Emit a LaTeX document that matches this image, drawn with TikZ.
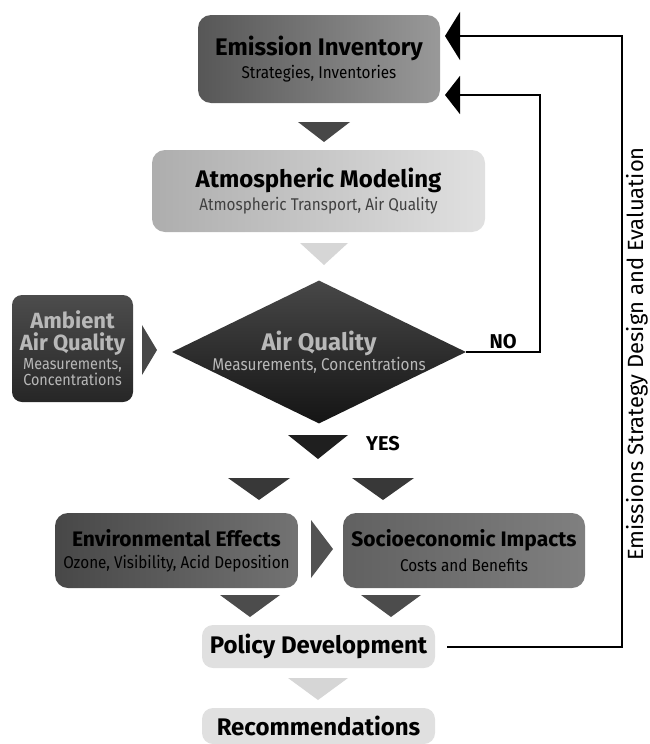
\documentclass[tikz,border=0pt]{standalone}
\usepackage{fontspec}
\setmainfont{Fira Sans}
\newfontfamily\narrowsf{Fira Sans}[FakeStretch=0.9]
\usetikzlibrary{shapes.geometric,arrows.meta}

\newcommand{\boxhead}[1]{{\fontsize{24}{26}\selectfont\bfseries #1}}
\newcommand{\boxsub}[1]{{\narrowsf\fontsize{17}{20}\selectfont #1}}

\begin{document}
\begin{tikzpicture}[x=1pt, y=-1pt,
  stage/.style={rectangle, rounded corners=13pt, inner sep=0pt, align=center},
  feedback/.style={line width=2pt},
  pale/.style={text=black!28}]
  \useasboundingbox (0,0) rectangle (650,744);
  % Kaesten
  \node[stage, minimum width=242pt, minimum height=88pt, left color=black!66, right color=black!40]
    (inv) at (319,59) {\boxhead{Emission Inventory}\\[4pt]\boxsub{Strategies, Inventories}};
  \node[stage, minimum width=333pt, minimum height=82pt, left color=black!32, right color=black!12]
    (atm) at (318.5,191) {\boxhead{Atmospheric Modeling}\\[3pt]\boxsub{\color{black!75}Atmospheric Transport, Air Quality}};
  \node[diamond, draw=none, inner sep=0pt, minimum width=294pt, minimum height=143pt, aspect=2.05,
    top color=black!72, bottom color=black!92] (aq) at (319,352) {};
  \node[pale, align=center] (aqtxt) at (aq.center)
    {\boxhead{Air Quality}\\[1pt]\boxsub{Measurements, Concentrations}};
  \node[stage, rounded corners=10pt, minimum width=121pt, minimum height=107pt, pale,
    top color=black!70, bottom color=black!85]
    (amb) at (72.5,348.5) {{\fontsize{22}{24}\selectfont\bfseries Ambient}\\[3pt]{\fontsize{22}{24}\selectfont\bfseries Air Quality}\\[2pt]
      {\narrowsf\fontsize{16}{18}\selectfont Measurements,}\\{\narrowsf\fontsize{16}{18}\selectfont Concentrations}};
  \node[stage, minimum width=243pt, minimum height=75pt, left color=black!72, right color=black!55]
    (env) at (176.5,550.5) {{\fontsize{21}{23}\selectfont\bfseries Environmental Effects}\\[7pt]\boxsub{Ozone, Visibility, Acid Deposition}};
  \node[stage, minimum width=242pt, minimum height=75pt, left color=black!62, right color=black!50]
    (soc) at (464,550.5) {{\fontsize{21}{23}\selectfont\bfseries Socioeconomic Impacts}\\[7pt]\boxsub{Costs and Benefits}};
  \node[stage, rounded corners=11pt, minimum width=233pt, minimum height=43pt, fill=black!12]
    (pol) at (318.5,646.5) {\boxhead{Policy Development}};
  \node[stage, rounded corners=11pt, minimum width=233pt, minimum height=36pt, fill=black!12]
    (rec) at (318.5,726) {\boxhead{Recommendations}};
  % Dreiecke zwischen den Stufen
  \fill[black!72] (298,122) -- (350,122) -- (324,142) -- cycle;
  \fill[black!16] (300,243) -- (348,243) -- (324,265) -- cycle;
  \fill[black!72] (142,325) -- (157,350) -- (142,375) -- cycle;
  \fill[black!88] (288,435) -- (348,435) -- (318,459) -- cycle;
  \fill[black!78] (228,478) -- (290,478) -- (259,500) -- cycle;
  \fill[black!78] (352,478) -- (414,478) -- (383,500) -- cycle;
  \fill[black!68] (311,520) -- (333,549) -- (311,578) -- cycle;
  \fill[black!70] (220,595) -- (280,595) -- (250,617) -- cycle;
  \fill[black!70] (361,595) -- (421,595) -- (391,617) -- cycle;
  \fill[black!16] (288,678) -- (348,678) -- (318,700) -- cycle;
  % Rueckfuehrung
  \coordinate (tipA) at (445,36);
  \coordinate (tipB) at (445,95);
  \coordinate (railA) at (622,0);
  \coordinate (railB) at (540,0);
  \draw[feedback, -{Triangle[length=15pt, width=48pt]}, shorten <=12pt]
    (pol.east) -- (pol.east -| railA) -- (tipA -| railA) -- (tipA);
  \draw[feedback, -{Triangle[length=15pt, width=38pt]}]
    (aq.east) -- (aq.east -| railB) node[midway, above=-1pt, font=\fontsize{20}{22}\selectfont\bfseries] (no) {NO}
    -- (tipB -| railB) -- (tipB);
  \node[font=\fontsize{20}{22}\selectfont\bfseries] (yes) at (383,444) {YES};
  \node[rotate=90, font=\fontsize{22}{24}\selectfont] (loop) at (637,354) {Emissions Strategy Design and Evaluation};
\end{tikzpicture}
\end{document}
